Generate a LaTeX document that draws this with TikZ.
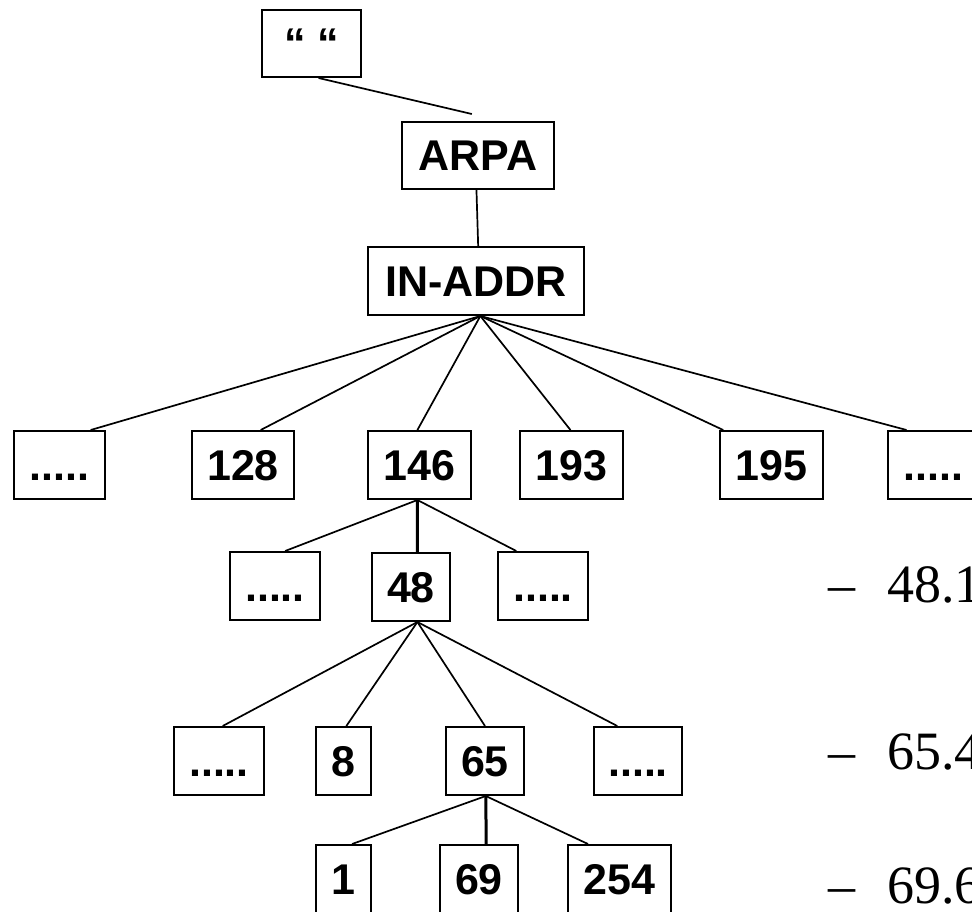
\documentclass[tikz,border=0pt]{standalone}
\usepackage{fontspec}
\setmainfont{Liberation Serif}
\newfontfamily\labelfont{Liberation Sans}
\usetikzlibrary{calc}

\tikzset{
  dnsbox/.style={draw, line width=2pt, inner sep=0pt, minimum height=68pt,
    font=\labelfont\bfseries\fontsize{43}{43}\selectfont,
    text height=30pt, text depth=0pt, align=center},
  link/.style={line width=1.7pt},
  mainlink/.style={line width=3pt},
  sidenote/.style={anchor=base west, inner sep=0pt,
    font=\fontsize{54}{54}\selectfont}
}

% point at a fraction along the top or bottom edge of a box
\newcommand{\topat}[2]{($(#1.north west)!#2!(#1.north east)$)}
\newcommand{\botat}[2]{($(#1.south west)!#2!(#1.south east)$)}

\begin{document}
\begin{tikzpicture}[x=1pt, y=1pt]
  \useasboundingbox (0,0) rectangle (972,-911);
  \clip (0,0) rectangle (972,-911);

  % root and upper domains
  \node[dnsbox, minimum width=99pt, minimum height=67pt] (root) at (311.5,-43.5) {“ “};
  \node[dnsbox, minimum width=152pt, minimum height=67pt] (arpa) at (478,-155.5) {ARPA};
  \node[dnsbox, minimum width=216pt] (inaddr) at (476,-281) {IN-ADDR};

  % first octet level
  \node[dnsbox, minimum width=91pt]  (oa)  at (59.5,-465)  {.....};
  \node[dnsbox, minimum width=102pt] (o128) at (243,-465)  {128};
  \node[dnsbox, minimum width=103pt] (o146) at (419.5,-465) {146};
  \node[dnsbox, minimum width=103pt] (o193) at (571.5,-465) {193};
  \node[dnsbox, minimum width=103pt] (o195) at (771.5,-465) {195};
  \node[dnsbox, minimum width=91pt]  (ob)  at (933.5,-465) {.....};

  % second octet level
  \node[dnsbox, minimum width=90pt] (pa)  at (275,-586) {.....};
  \node[dnsbox, minimum width=78pt] (p48) at (411,-587) {48};
  \node[dnsbox, minimum width=90pt] (pb)  at (543,-586) {.....};

  % third octet level
  \node[dnsbox, minimum width=90pt] (qa)  at (219,-761)   {.....};
  \node[dnsbox, minimum width=55pt] (q8)  at (343.5,-761) {8};
  \node[dnsbox, minimum width=78pt] (q65) at (485,-761)   {65};
  \node[dnsbox, minimum width=88pt] (qb)  at (638,-761)   {.....};

  % fourth octet level
  \node[dnsbox, minimum width=55pt]  (r1)   at (343.5,-879) {1};
  \node[dnsbox, minimum width=78pt]  (r69)  at (479,-879)   {69};
  \node[dnsbox, minimum width=103pt] (r254) at (619.5,-879) {254};

  % connectors
  \coordinate (arpain) at ($(arpa.north west)!0.46!(arpa.north east)+(0,7)$);
  \draw[link] \botat{root}{0.57} -- (arpain);
  \draw[link] \botat{arpa}{0.49} -- \topat{inaddr}{0.51};

  \draw[link] \botat{inaddr}{0.52} -- \topat{oa}{0.835};
  \draw[link] \botat{inaddr}{0.52} -- \topat{o128}{0.67};
  \draw[link] \botat{inaddr}{0.52} -- \topat{o146}{0.48};
  \draw[link] \botat{inaddr}{0.52} -- \topat{o193}{0.49};
  \draw[link] \botat{inaddr}{0.52} -- \topat{o195}{0.04};
  \draw[link] \botat{inaddr}{0.52} -- \topat{ob}{0.21};

  \draw[link] \botat{o146}{0.48} -- \topat{pa}{0.61};
  \draw[mainlink] \botat{o146}{0.48} -- \topat{p48}{0.58};
  \draw[link] \botat{o146}{0.48} -- \topat{pb}{0.21};

  \draw[link] \botat{p48}{0.58} -- \topat{qa}{0.54};
  \draw[link] \botat{p48}{0.58} -- \topat{q8}{0.55};
  \draw[link] \botat{p48}{0.58} -- \topat{q65}{0.5};
  \draw[link] \botat{p48}{0.58} -- \topat{qb}{0.27};

  \draw[link] \botat{q65}{0.51} -- \topat{r1}{0.65};
  \draw[mainlink] \botat{q65}{0.51} -- \topat{r69}{0.59};
  \draw[link] \botat{q65}{0.51} -- \topat{r254}{0.2};

  % reverse names
  \node[sidenote] (n48)  at (828,-602) {–\kern32pt 48.1};
  \node[sidenote] (n65)  at (828,-769) {–\kern32pt 65.4};
  \node[sidenote] (n69)  at (828,-903) {–\kern32pt 69.6};
\end{tikzpicture}
\end{document}
